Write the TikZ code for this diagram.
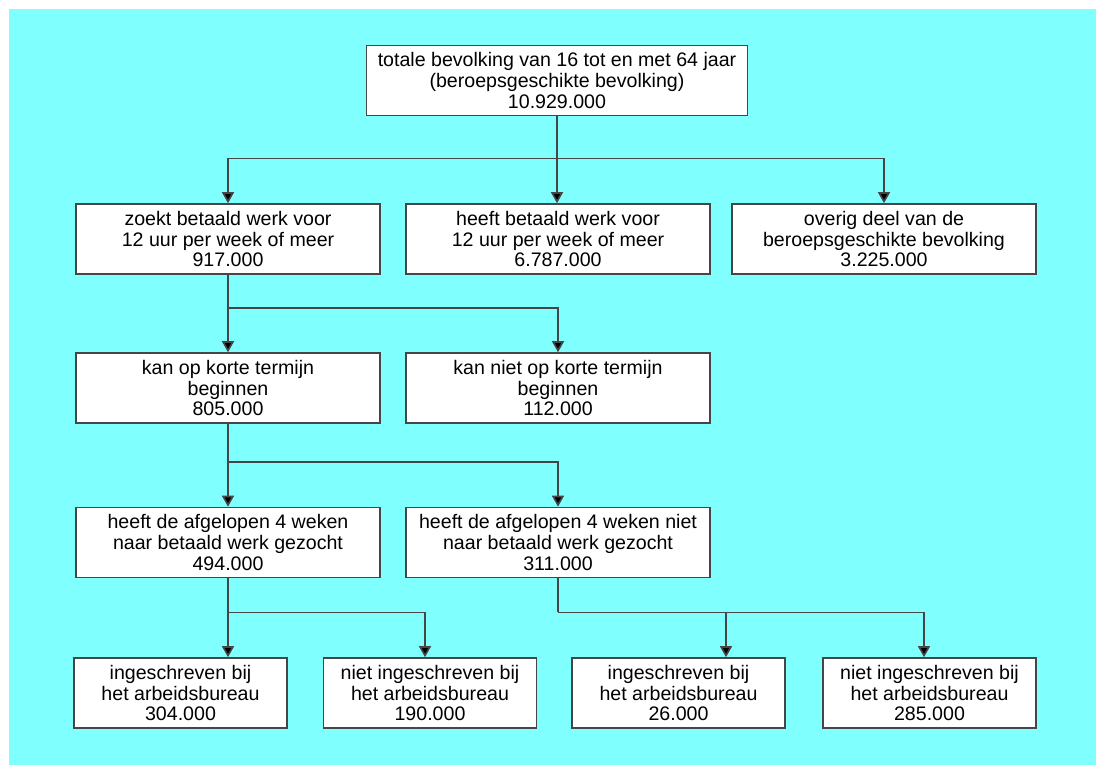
\documentclass[tikz,border=0pt]{standalone}
\usepackage{fontspec}
\setmainfont{Liberation Sans}
\usetikzlibrary{arrows.meta}
\definecolor{achtergrond}{RGB}{128,255,255}
\definecolor{lijn}{RGB}{70,70,70}

\begin{document}
\begin{tikzpicture}[x=0.5pt,y=-0.5pt]
		\tikzset{vak/.style={draw=lijn,fill=white,line width=0.8pt,align=center,inner sep=0pt,minimum height=35pt,font=\fontsize{9.8}{10.3}\selectfont},
		breed/.style={vak,minimum width=152pt},
		smal/.style={vak,minimum width=106.5pt},
		tak/.style={draw=lijn,line width=0.8pt},
		pijl/.style={tak,-{Triangle[width=6pt,length=5.5pt,fill=black]}}};
		\useasboundingbox (0,0) rectangle (1096,765);
		\fill[achtergrond] (9,9) rectangle (1096,765);
		
		% bovenste vak
		\node[vak,minimum width=190.5pt] (totaal) at (557,80.5) {totale bevolking van 16 tot en met 64 jaar\\(beroepsgeschikte bevolking)\\10.929.000};
		
		% tweede rij
		\node[breed] (zoekt) at (228,239) {zoekt betaald werk voor\\12 uur per week of meer\\917.000};
		\node[breed] (heeft) at (558,239) {heeft betaald werk voor\\12 uur per week of meer\\6.787.000};
		\node[breed] (overig) at (884,239) {overig deel van de\\beroepsgeschikte bevolking\\3.225.000};
		
		% derde rij
		\node[breed] (kort) at (228,388) {kan op korte termijn\\beginnen\\805.000};
		\node[breed] (nietkort) at (558,388) {kan niet op korte termijn\\beginnen\\112.000};
		
		% vierde rij
		\node[breed] (gezocht) at (228,542.5) {heeft de afgelopen 4 weken\\naar betaald werk gezocht\\494.000};
		\node[breed] (nietgezocht) at (558,542.5) {heeft de afgelopen 4 weken niet\\naar betaald werk gezocht\\311.000};
		
		% onderste rij
		\node[smal] (ing1) at (180.5,693) {ingeschreven bij\\het arbeidsbureau\\304.000};
		\node[smal] (niet1) at (430,693) {niet ingeschreven bij\\het arbeidsbureau\\190.000};
		\node[smal] (ing2) at (678.5,693) {ingeschreven bij\\het arbeidsbureau\\26.000};
		\node[smal] (niet2) at (929.5,693) {niet ingeschreven bij\\het arbeidsbureau\\285.000};
		
		% verbindingen
		\draw[tak] (totaal.south) -- ++(0,42) coordinate (j1);
		\draw[pijl] (j1) -| (zoekt.north);
		\draw[pijl] (j1) -- (heeft.north -| j1);
		\draw[pijl] (j1) -| (overig.north);
		
		\draw[tak] (zoekt.south) -- ++(0,33) coordinate (j2);
		\draw[pijl] (j2) -- (kort.north);
		\draw[pijl] (j2) -| (nietkort.north);
		
		\draw[tak] (kort.south) -- ++(0,38) coordinate (j3);
		\draw[pijl] (j3) -- (gezocht.north);
		\draw[pijl] (j3) -| (nietgezocht.north);
		
		\draw[tak] (gezocht.south) -- ++(0,34) coordinate (j4);
		\draw[pijl] (j4) -- (ing1.north -| j4);
		\draw[pijl] (j4) -| ([xshift=-2.5pt]niet1.north);
		
		\draw[tak] (nietgezocht.south) -- ++(0,34) coordinate (j5);
		\draw[pijl] (j5) -| ([xshift=23.75pt]ing2.north);
		\draw[pijl] (j5) -| ([xshift=-2.75pt]niet2.north);
		
	\end{tikzpicture}
\end{document}
